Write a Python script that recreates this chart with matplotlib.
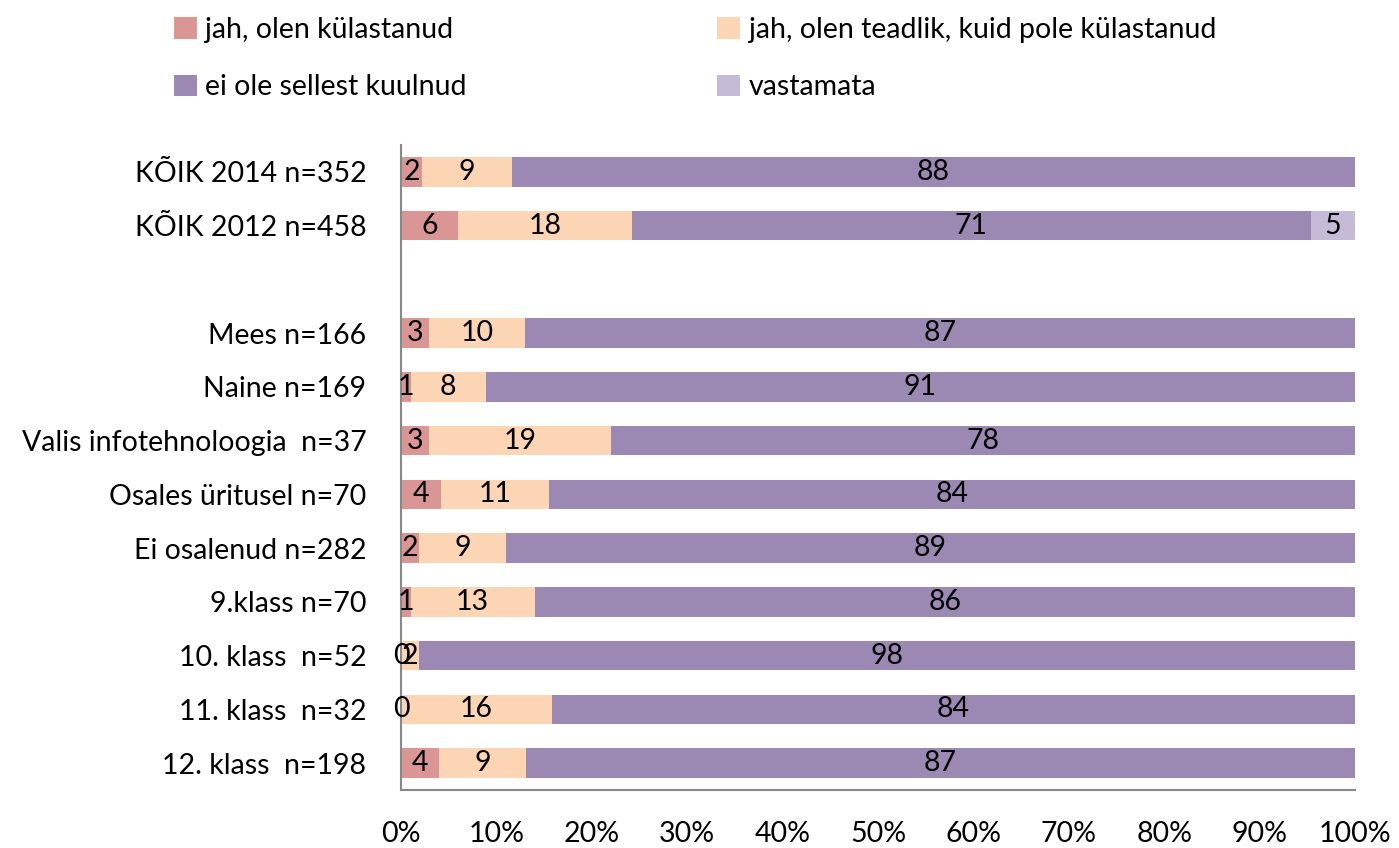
import matplotlib
matplotlib.use("Agg")
import matplotlib.pyplot as plt
import numpy as np

plt.rcParams['font.family'] = ['Lato', 'DejaVu Sans']

categories = ["KÕIK 2014 n=352", "KÕIK 2012 n=458", "",
              "Mees n=166", "Naine n=169", "Valis infotehnoloogia  n=37",
              "Osales üritusel n=70", "Ei osalenud n=282", "9.klass n=70",
              "10. klass  n=52", "11. klass  n=32", "12. klass  n=198"]
series_names = ["jah, olen külastanud", "jah, olen teadlik, kuid pole külastanud",
                "ei ole sellest kuulnud", "vastamata"]
visited = [2.2, 6.0, np.nan, 2.9, 1.0, 2.9, 4.2, 1.9, 1.0, 0.0, 0.0, 4.0]
aware = [9.4, 18.2, np.nan, 10.1, 7.9, 19.1, 11.3, 9.1, 13.0, 1.9, 15.8, 9.1]
not_heard = [88.4, 71.2, np.nan, 87.0, 91.1, 78.0, 84.5, 89.0, 86.0, 98.1, 84.2, 86.9]
no_answer = [0.0, 4.6, np.nan, 0.0, 0.0, 0.0, 0.0, 0.0, 0.0, 0.0, 0.0, 0.0]
xtick_vals = [0, 10, 20, 30, 40, 50, 60, 70, 80, 90, 100]

colors = ["#D99694", "#FCD5B5", "#9B89B3", "#C6BBD7"]
FS = 20.5

fig = plt.figure(figsize=(13.99, 8.48), dpi=100)
ax = fig.add_axes([401/1399, 1 - 790/848, (1355 - 401)/1399, 645/848])

y = np.arange(len(categories))
left = np.zeros(len(categories))
handles = []
for vals, name, col, show_zero in zip([visited, aware, not_heard, no_answer],
                                      series_names, colors, [True, True, False, False]):
    v = np.array(vals, dtype=float)
    vz = np.nan_to_num(v)
    h = ax.barh(y, vz, left=left, height=0.55, color=col, label=name)
    handles.append(h)
    for i in range(len(y)):
        if np.isnan(v[i]):
            continue
        if v[i] > 0 or show_zero:
            ax.text(left[i] + vz[i] / 2, y[i], f"{v[i]:.0f}", ha="center", va="center",
                    fontsize=FS, color="black")
    left = left + vz

ax.set_ylim(len(categories) - 0.5, -0.5)
ax.set_xlim(0, 100)
ax.set_yticks(y)
ax.set_yticklabels(categories, fontsize=FS)
ax.set_xticks(xtick_vals)
ax.set_xticklabels([f"{v}%" for v in xtick_vals], fontsize=FS)
ax.tick_params(axis="both", length=0)
ax.tick_params(axis="x", pad=22)
ax.tick_params(axis="y", pad=25)
for s in ["top", "right"]:
    ax.spines[s].set_visible(False)
for s in ["left", "bottom"]:
    ax.spines[s].set_color("#888888")
    ax.spines[s].set_linewidth(1.5)

order = [0, 2, 1, 3]
fig.legend([handles[i] for i in order], [series_names[i] for i in order],
           ncol=2, loc="upper left", bbox_to_anchor=(157/1399, 1.0),
           frameon=False, fontsize=FS, handlelength=0.8, handleheight=0.8,
           handletextpad=0.3, columnspacing=8.8, labelspacing=1.1, borderaxespad=0.2)

fig.savefig("out.png", dpi=100)
